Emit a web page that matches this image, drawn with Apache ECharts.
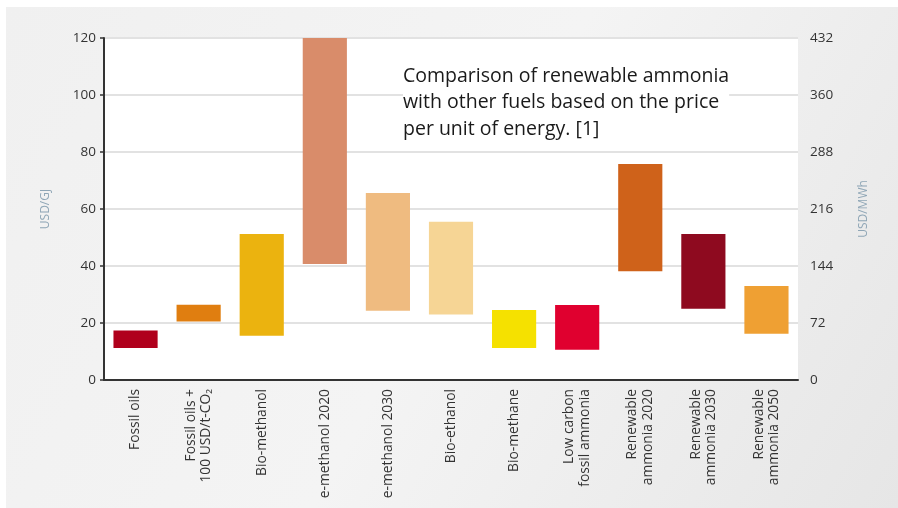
<!DOCTYPE html>
<html>
<head>
<meta charset="utf-8">
<script src="https://cdn.jsdelivr.net/npm/echarts@6/dist/echarts.min.js"></script>
<style>html,body{margin:0;padding:0;background:#fff;}#c{width:898px;height:508px;}</style>
</head>
<body>
<div id="c"></div>
<script>
const categories = ['Fossil oils', 'Fossil oils +\n100 USD/t-CO₂', 'Bio-methanol', 'e-methanol 2020', 'e-methanol 2030', 'Bio-ethanol', 'Bio-methane', 'Low carbon\nfossil ammonia', 'Renewable\nammonia 2020', 'Renewable\nammonia 2030', 'Renewable\nammonia 2050'];
const lowValues  = [11.2, 20.5, 15.5, 40.7, 24.3, 23.0, 11.2, 10.6, 38.2, 25.0, 16.2];
const highValues = [17.4, 26.4, 51.2, 120, 65.6, 55.5, 24.6, 26.3, 75.8, 51.2, 33.0];
const barColors = ['#b0001c', '#e07e10', '#ebb30f', '#d98c6a', '#efbb80', '#f6d595', '#f5e100', '#e0002f', '#cf621a', '#8e0a1f', '#efa033'];
const leftTicks = [0, 20, 40, 60, 80, 100, 120];
const rightTicks = [0, 72, 144, 216, 288, 360, 432];
const titleText = 'Comparison of renewable ammonia\nwith other fuels based on the price\nper unit of energy. [1]';

const chart = echarts.init(document.getElementById('c'), null, {renderer: 'canvas'});
const FONT = '"Open Sans", "Noto Sans", sans-serif';
chart.setOption({
  animation: false,
  backgroundColor: '#ffffff',
  graphic: [{
    type: 'rect', z: -100, silent: true,
    shape: {x: 6, y: 7, width: 892, height: 501},
    style: {fill: new echarts.graphic.LinearGradient(0, 0, 1, 1, [{offset: 0, color: '#f0f0f0'}, {offset: 0.5, color: '#f4f4f4'}, {offset: 1, color: '#e6e6e6'}])}
  }],
  title: {
    text: titleText, left: 403, top: 63, padding: 0,
    backgroundColor: '#ffffff',
    textStyle: {fontFamily: FONT, fontSize: 19.5, fontWeight: 'normal', color: '#1a1a1a', lineHeight: 26.5}
  },
  grid: {left: 104, right: 100, top: 38, bottom: 128, show: true, backgroundColor: '#ffffff', borderWidth: 0},
  xAxis: {
    type: 'category', data: categories,
    axisLine: {show: true, lineStyle: {color: '#333', width: 2}},
    axisTick: {show: false},
    axisLabel: {rotate: 90, interval: 0, margin: 9, fontFamily: FONT, fontSize: 13.8, lineHeight: 15.5, color: '#333'}
  },
  yAxis: [{
    type: 'value', min: leftTicks[0], max: leftTicks[leftTicks.length - 1], interval: 20,
    name: 'USD/GJ', nameLocation: 'middle', nameRotate: 90, nameGap: 52,
    nameTextStyle: {fontFamily: FONT, fontSize: 12, color: '#8fa6b6'},
    axisLine: {show: true, lineStyle: {color: '#333', width: 2}},
    axisTick: {show: true, length: 4, lineStyle: {color: '#333', width: 1.5}},
    axisLabel: {margin: 8, fontFamily: FONT, fontSize: 13.5, color: '#333'},
    splitLine: {show: true, lineStyle: {color: '#e2e2e2', width: 2}}
  }, {
    type: 'value', min: rightTicks[0], max: rightTicks[rightTicks.length - 1], interval: 72, position: 'right',
    name: 'USD/MWh', nameLocation: 'middle', nameRotate: 90, nameGap: 60,
    nameTextStyle: {fontFamily: FONT, fontSize: 12, color: '#8fa6b6'},
    axisLine: {show: false}, axisTick: {show: false},
    axisLabel: {margin: 12, fontFamily: FONT, fontSize: 13.5, color: '#333'},
    splitLine: {show: false}
  }],
  series: [{
    type: 'bar', stack: 'r', barWidth: '70%', silent: true,
    itemStyle: {color: 'transparent'},
    data: lowValues
  }, {
    type: 'bar', stack: 'r', barWidth: '70%', silent: true,
    data: highValues.map((h, i) => ({value: +(h - lowValues[i]).toFixed(2), itemStyle: {color: barColors[i]}}))
  }]
});
</script>
</body>
</html>
